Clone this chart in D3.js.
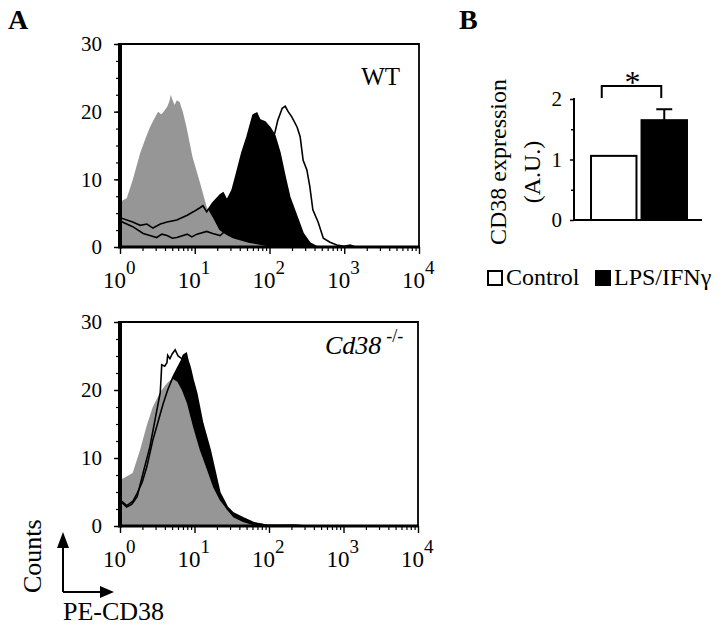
<!DOCTYPE html>
<html>
<head>
<meta charset="utf-8">
<script src="https://cdn.jsdelivr.net/npm/d3@7"></script>
<style>
  body { margin: 0; background: #fff; }
  svg { font-family: "Liberation Serif", "Times New Roman", serif; }
</style>
</head>
<body>
<svg id="fig" width="724" height="630"></svg>
<script>
// histogram points: [log10 PE-CD38, counts]
var wtGray = [[0,6.6],[0.04,6.9],[0.09,7.2],[0.17,9.9],[0.27,13.9],[0.34,16],[0.4,17.7],[0.46,19],[0.51,20],[0.55,19.6],
  [0.57,19.8],[0.61,20.4],[0.63,20.7],[0.66,21.5],[0.68,22.5],[0.7,21.8],[0.73,21],[0.76,21.7],[0.8,21.4],[0.82,20.6],
  [0.84,20],[0.89,17.7],[0.97,13.3],[1.07,9.5],[1.16,5.9],[1.24,4.4],[1.33,2.5],[1.42,1.8],[1.51,1.3],[1.73,0.6],
  [1.96,0.15],[2.1,0],[4,0]];
var wtBlack = [[0,4.4],[0.01,4.3],[0.17,3.7],[0.27,3.2],[0.36,3.4],[0.44,2.8],[0.54,3.4],[0.63,3.7],[0.76,4],[0.9,4.7],
  [0.98,5.2],[1.07,5.8],[1.11,6.1],[1.16,5.2],[1.24,6.5],[1.34,7.7],[1.38,8],[1.43,6.9],[1.5,8.4],[1.56,10.9],[1.63,13.9],
  [1.7,16.3],[1.78,19.5],[1.83,19.8],[1.87,18.8],[1.94,18.5],[2.01,17.6],[2.07,16.5],[2.14,13.9],[2.21,10.3],[2.27,7.4],
  [2.37,4.4],[2.45,2],[2.54,0.6],[2.64,0],[4,0]];
var wtOpen = [[0,3.9],[0.01,3.8],[0.17,3],[0.31,2],[0.4,1.7],[0.49,1.4],[0.56,1.9],[0.63,1.7],[0.7,1.3],[0.76,1.4],[0.9,1.9],
  [0.96,1.5],[1.03,1.9],[1.16,2.3],[1.24,2],[1.34,1.7],[1.47,3],[1.67,6],[1.85,10],[1.98,15],[2.07,16.8],[2.11,18.7],
  [2.17,20.5],[2.21,20.8],[2.25,20],[2.3,19.2],[2.37,17.7],[2.41,16.3],[2.45,12.8],[2.5,11.4],[2.54,8.9],[2.58,5.5],
  [2.65,3.7],[2.72,1.3],[2.81,0.7],[2.9,0.3],[3.0,0.1],[3.08,0.3],[3.15,0],[4,0]];

var koGray = [[0,6.8],[0.04,7],[0.17,7.8],[0.27,11.2],[0.36,14.8],[0.44,17.5],[0.54,19.7],[0.63,21],[0.7,21.7],[0.77,21.2],
  [0.83,20],[0.9,18],[0.98,14.6],[1.07,11.2],[1.17,8.2],[1.25,5.7],[1.34,3.8],[1.44,2.4],[1.52,1.3],[1.65,0.6],[1.79,0.1],
  [1.95,0],[4,0]];
var koBlack = [[0,3.8],[0.03,3.6],[0.09,3],[0.17,3.6],[0.23,4.8],[0.3,6.5],[0.36,8.7],[0.44,12.6],[0.51,15.3],[0.58,18],
  [0.64,20],[0.71,21.9],[0.78,23.4],[0.82,24.2],[0.85,25.1],[0.89,25.4],[0.91,24.4],[0.94,23.4],[0.98,21.5],[1.03,19.5],
  [1.11,15.1],[1.21,11.2],[1.28,7.8],[1.34,4.9],[1.44,2.8],[1.52,1.9],[1.65,1.2],[1.79,0.5],[1.97,0.1],[2.35,0.15],[2.5,0],[4,0]];
var koOpen = [[0,3.6],[0.03,3.4],[0.09,2.8],[0.16,3.2],[0.23,4.3],[0.31,7.8],[0.4,11.6],[0.47,15.6],[0.54,19.6],[0.55,21.5],
  [0.56,23.7],[0.6,23.5],[0.63,24],[0.64,25.1],[0.67,24.6],[0.7,25.3],[0.74,25.9],[0.78,25],[0.83,24.6],[0.87,23.8],
  [0.94,22],[1.03,18],[1.11,14],[1.21,10],[1.28,7],[1.34,4.5],[1.44,2.5],[1.52,1.6],[1.65,1],[1.79,0.4],[1.97,0.1],[2.2,0],[4,0]];

var histYTicks = [0, 10, 20, 30];
var decades = [0, 1, 2, 3, 4];

// panel B
var groups = ['Control', 'LPS/IFN\u03b3'];
var expression = [1.06, 1.65];
var expressionErr = [0, 0.18];
var barYTicks = [0, 1, 2];

var svg = d3.select('#fig');
var grayFill = '#969696';

function drawHist(xs, ys, gray, black, open) {
    var g = svg.append('g');
    var area = d3.area()
        .x(function (d) { return xs(Math.pow(10, d[0])); })
        .y0(ys(0))
        .y1(function (d) { return ys(d[1]); });
    var line = d3.line()
        .x(function (d) { return xs(Math.pow(10, d[0])); })
        .y(function (d) { return ys(d[1]); });

    g.append('path').datum(black).attr('d', area).attr('fill', '#000');
    g.append('path').datum(gray).attr('d', area).attr('fill', grayFill);
    g.append('path').datum(open).attr('d', line).attr('fill', 'none').attr('stroke', '#000').attr('stroke-width', 1.6);
    g.append('path').datum(black).attr('d', line).attr('fill', 'none').attr('stroke', '#000').attr('stroke-width', 1.6);

    var x0 = xs.range()[0], x1 = xs.range()[1];
    var yb = ys.range()[0], yt = ys.range()[1];

    // y ticks
    var minorY = d3.range(0, 30.1, 2.5);
    g.append('g').attr('transform', 'translate(' + x0 + ',0)')
        .call(d3.axisLeft(ys).tickValues(minorY).tickSize(4).tickFormat(''))
        .call(function (a) { a.select('.domain').remove(); a.selectAll('line').attr('stroke-width', 1.2); });
    var ya = g.append('g').attr('transform', 'translate(' + x0 + ',0)')
        .call(d3.axisLeft(ys).tickValues(histYTicks).tickSize(6).tickPadding(12));
    ya.select('.domain').remove();
    ya.selectAll('line').attr('stroke-width', 1.4);
    ya.selectAll('text').attr('font-size', 21).attr('font-family', 'Liberation Serif').attr('fill', '#000');

    // x ticks (log)
    var minorX = [];
    decades.slice(0, 4).forEach(function (d) {
        for (var k = 2; k < 10; k++) minorX.push(k * Math.pow(10, d));
    });
    g.append('g').attr('transform', 'translate(0,' + yb + ')')
        .call(d3.axisBottom(xs).tickValues(minorX).tickSize(4).tickFormat(''))
        .call(function (a) { a.select('.domain').remove(); a.selectAll('line').attr('stroke-width', 1.2); });
    g.append('g').attr('transform', 'translate(0,' + yb + ')')
        .call(d3.axisBottom(xs).tickValues(decades.map(function (d) { return Math.pow(10, d); })).tickSize(7).tickFormat(''))
        .call(function (a) { a.select('.domain').remove(); a.selectAll('line').attr('stroke-width', 1.4); });

    decades.forEach(function (d) {
        var t = g.append('text')
            .attr('x', xs(Math.pow(10, d)) - 17)
            .attr('y', yb + 41)
            .attr('font-size', 23);
        t.append('tspan').text('10');
        t.append('tspan').attr('dy', -14).attr('font-size', 19).text(d);
    });

    // frame
    g.append('path').attr('d', 'M' + x0 + ',' + yt + 'H' + x1 + 'V' + yb)
        .attr('fill', 'none').attr('stroke', '#000').attr('stroke-width', 1.8);
    g.append('line').attr('x1', x0).attr('x2', x1 + 1).attr('y1', yb).attr('y2', yb)
        .attr('stroke', '#000').attr('stroke-width', 3);
    g.append('line').attr('x1', x0).attr('x2', x0).attr('y1', yt - 1).attr('y2', yb + 1.5)
        .attr('stroke', '#000').attr('stroke-width', 4);

    return g;
}

var xTop = d3.scaleLog().domain([1, 1e4]).range([120, 419]);
var yTop = d3.scaleLinear().domain([0, 30]).range([247, 44]);
var xBot = d3.scaleLog().domain([1, 1e4]).range([120, 418]);
var yBot = d3.scaleLinear().domain([0, 30]).range([526, 322]);

var gTop = drawHist(xTop, yTop, wtGray, wtBlack, wtOpen);
var gBot = drawHist(xBot, yBot, koGray, koBlack, koOpen);

gTop.append('text').attr('x', 400).attr('y', 85).attr('text-anchor', 'end').attr('font-size', 25).text('WT');
var ko = gBot.append('text').attr('x', 325).attr('y', 354).attr('font-size', 26);
ko.append('tspan').attr('font-style', 'italic').text('Cd38');
ko.append('tspan').attr('dx', 5).attr('dy', -12).attr('font-size', 18).text('-/-');

// panel letters
svg.append('text').attr('x', 8).attr('y', 29).attr('font-size', 28).attr('font-weight', 'bold').text('A');
svg.append('text').attr('x', 459).attr('y', 29).attr('font-size', 28).attr('font-weight', 'bold').text('B');

// counts / PE-CD38 arrows
var arr = svg.append('g');
arr.append('path').attr('d', 'M63,592V546M63,592H101').attr('fill', 'none').attr('stroke', '#000').attr('stroke-width', 2);
arr.append('path').attr('d', 'M57,548L69,548L63,532Z').attr('fill', '#000');
arr.append('path').attr('d', 'M100,586L100,598L114,592Z').attr('fill', '#000');
svg.append('text').attr('transform', 'translate(41,593) rotate(-90)').attr('font-size', 26).text('Counts');
svg.append('text').attr('x', 63).attr('y', 620).attr('font-size', 26).text('PE-CD38');

// ---- panel B bar chart
var xb = d3.scaleBand().domain(groups).range([590, 688]).paddingInner(0.1).paddingOuter(0.02);
var yb = d3.scaleLinear().domain([0, 2]).range([220, 99]);
var gb = svg.append('g');

gb.selectAll('rect').data(groups).enter().append('rect')
    .attr('x', function (d) { return xb(d); })
    .attr('width', xb.bandwidth())
    .attr('y', function (d, i) { return yb(expression[i]); })
    .attr('height', function (d, i) { return yb(0) - yb(expression[i]); })
    .attr('fill', function (d, i) { return i == 0 ? '#fff' : '#000'; })
    .attr('stroke', '#000').attr('stroke-width', 2);

groups.forEach(function (d, i) {
    if (!expressionErr[i]) return;
    var cx = xb(d) + xb.bandwidth() / 2;
    var top = yb(expression[i] + expressionErr[i]);
    gb.append('path').attr('d', 'M' + cx + ',' + yb(expression[i]) + 'V' + top + 'M' + (cx - 8) + ',' + top + 'H' + (cx + 8))
        .attr('stroke', '#000').attr('stroke-width', 2).attr('fill', 'none');
});

gb.append('g').attr('transform', 'translate(574,0)')
    .call(d3.axisLeft(yb).tickValues([0.5, 1.5]).tickSize(3).tickFormat(''))
    .call(function (a) { a.select('.domain').remove(); a.selectAll('line').attr('stroke-width', 1.5); });
var by = gb.append('g').attr('transform', 'translate(574,0)')
    .call(d3.axisLeft(yb).tickValues(barYTicks).tickSize(4).tickPadding(8).tickFormat(d3.format('d')));
by.select('.domain').remove();
by.selectAll('line').attr('stroke-width', 1.5);
by.selectAll('text').attr('font-size', 21).attr('font-family', 'Liberation Serif').attr('fill', '#000');
gb.append('line').attr('x1', 574).attr('x2', 574).attr('y1', 98).attr('y2', 221).attr('stroke', '#000').attr('stroke-width', 2);
gb.append('line').attr('x1', 573).attr('x2', 702).attr('y1', 220).attr('y2', 220).attr('stroke', '#000').attr('stroke-width', 2);

// significance bracket
var lx = xb(groups[0]) + xb.bandwidth() / 2 - 12;
var rx = xb(groups[1]) + xb.bandwidth() / 2 - 3;
gb.append('path').attr('d', 'M' + lx + ',98V86H' + rx + 'V98').attr('fill', 'none').attr('stroke', '#000').attr('stroke-width', 2);
gb.append('text').attr('x', (lx + rx) / 2 + 1).attr('y', 93).attr('text-anchor', 'middle').attr('font-size', 32).text('*');

gb.append('text').attr('transform', 'translate(506,162) rotate(-90)').attr('text-anchor', 'middle')
    .attr('font-size', 24).text('CD38 expression');
gb.append('text').attr('transform', 'translate(540,172) rotate(-90)').attr('text-anchor', 'middle')
    .attr('font-size', 24).text('(A.U.)');

// legend
var lg = svg.append('g');
var legX = [487, 595];
groups.forEach(function (d, i) {
    lg.append('rect').attr('x', legX[i] + 1).attr('y', 271).attr('width', 14).attr('height', 14)
        .attr('fill', i == 0 ? '#fff' : '#000').attr('stroke', '#000').attr('stroke-width', 2);
    lg.append('text').attr('x', legX[i] + 19).attr('y', 285).attr('font-size', 24).text(d);
});
</script>
</body>
</html>
